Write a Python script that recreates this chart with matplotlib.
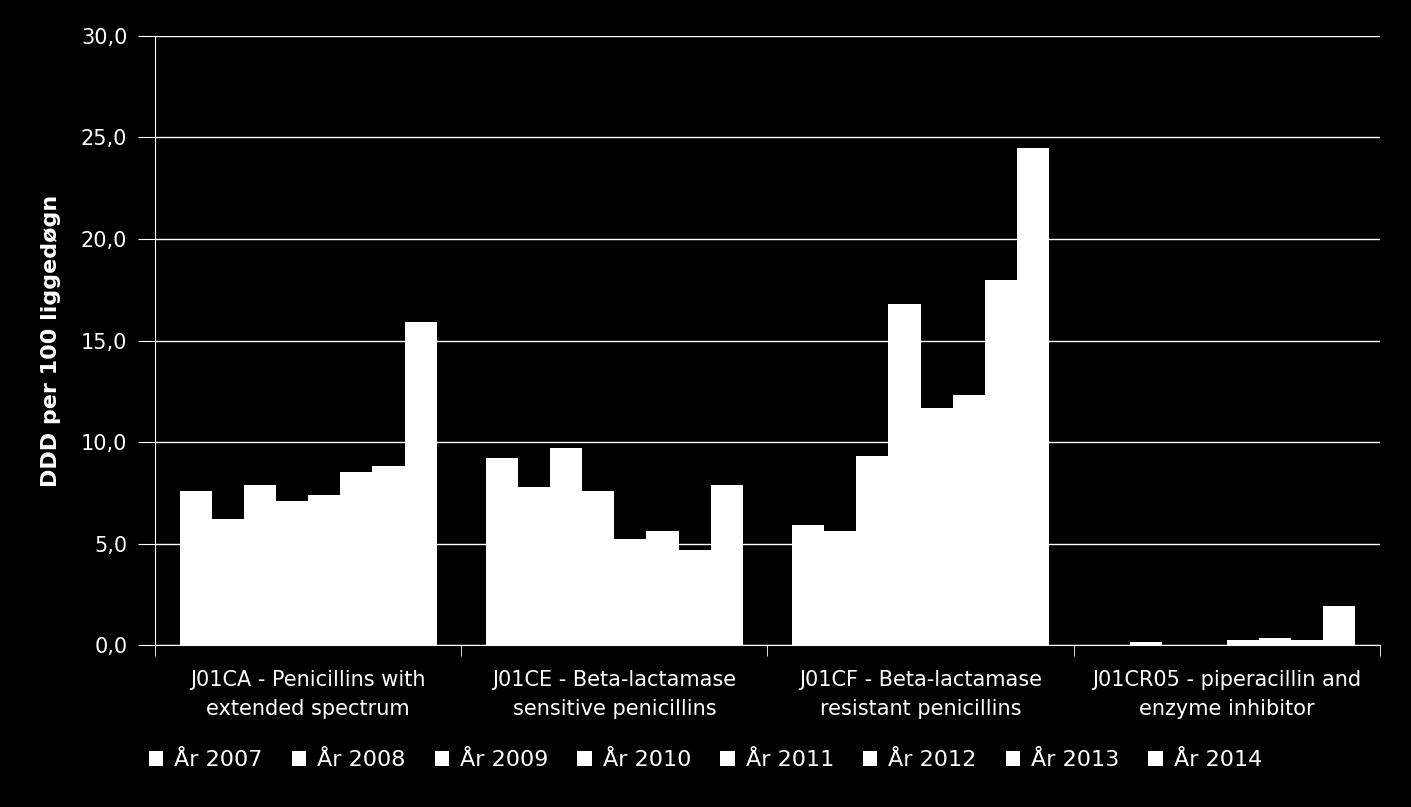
import numpy as np
import matplotlib
matplotlib.use('Agg')
import matplotlib.pyplot as plt
from matplotlib.ticker import FuncFormatter

# categories and yearly values (DDD per 100 liggedøgn)
categories = ['J01CA - Penicillins with\nextended spectrum',
              'J01CE - Beta-lactamase\nsensitive penicillins',
              'J01CF - Beta-lactamase\nresistant penicillins',
              'J01CR05 - piperacillin and\nenzyme inhibitor']
years = ['År 2007', 'År 2008', 'År 2009', 'År 2010',
         'År 2011', 'År 2012', 'År 2013', 'År 2014']
j01ca = [7.6, 6.2, 7.9, 7.1, 7.4, 8.5, 8.8, 15.9]
j01ce = [9.2, 7.8, 9.7, 7.6, 5.2, 5.6, 4.7, 7.9]
j01cf = [5.9, 5.6, 9.3, 16.8, 11.7, 12.3, 18.0, 24.5]
j01cr05 = [0.0, 0.15, 0.0, 0.0, 0.25, 0.35, 0.25, 1.9]

values = np.array([j01ca, j01ce, j01cf, j01cr05])

plt.rcParams['font.family'] = ['DejaVu Sans']

fig = plt.figure(figsize=(14.11, 8.07), dpi=100, facecolor='black')
ax = fig.add_axes([0.1099, 0.2007, 0.868, 0.7547], facecolor='black')

x = np.arange(len(categories))
width = 0.84 / len(years)
for i, year in enumerate(years):
    # each year gets one bar per category, all plain white
    ax.bar(x - 0.42 + width * (i + 0.5), values[:, i], width,
           color='white', label=year, zorder=3)

ax.set_xlim(-0.5, len(categories) - 0.5)
ax.set_ylim(0, 30)
ax.set_yticks(np.arange(0, 31, 5))
ax.yaxis.set_major_formatter(FuncFormatter(lambda v, p: ('%.1f' % v).replace('.', ',')))
ax.grid(axis='y', color='white', linewidth=1, zorder=0)

ax.set_xticks(x)
ax.set_xticklabels(categories, color='white', fontsize=15, linespacing=1.55)
ax.tick_params(axis='x', length=0, pad=18)
# separators between category groups
ax.set_xticks(np.arange(-0.5, len(categories)), minor=True)
ax.tick_params(axis='x', which='minor', length=8, color='white', direction='out')

ax.tick_params(axis='y', colors='white', labelsize=15, length=12, direction='out', pad=8)
ax.set_ylabel('DDD per 100 liggedøgn', color='white', fontsize=16,
              fontweight='bold', labelpad=14)

for side in ['top', 'right']:
    ax.spines[side].set_visible(False)
for side in ['left', 'bottom']:
    ax.spines[side].set_color('white')

leg = fig.legend(loc='center', bbox_to_anchor=(0.5, 0.058), ncol=8, frameon=False,
                 fontsize=16, handlelength=0.65, handleheight=0.65, handletextpad=0.5,
                 columnspacing=1.3, labelcolor='white')

fig.savefig('out.png', dpi=100, facecolor='black')
